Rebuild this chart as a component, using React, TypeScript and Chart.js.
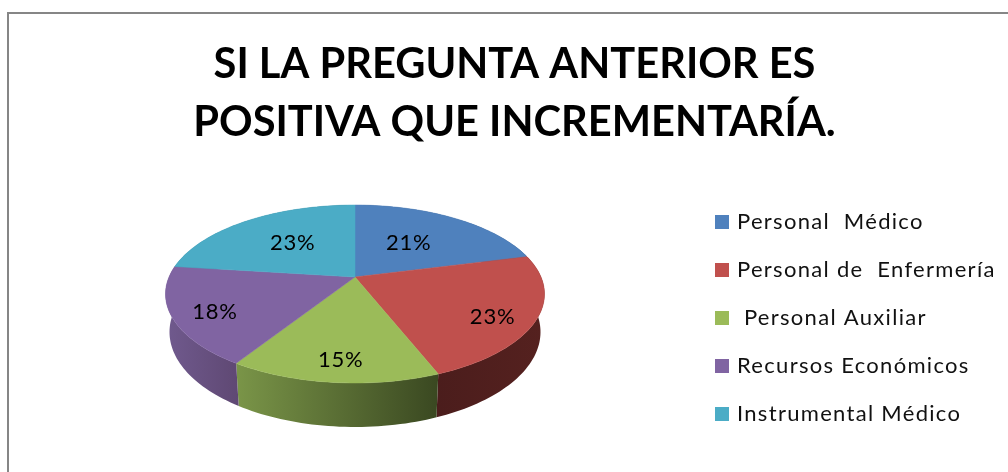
import React, { useEffect, useRef } from "react";
import { Chart, registerables } from "chart.js";

Chart.register(...registerables);

const titleLines = ["SI LA PREGUNTA ANTERIOR ES", "POSITIVA QUE INCREMENTARÍA."];
const categories = ["Personal  Médico", "Personal de  Enfermería", " Personal Auxiliar", "Recursos Económicos", "Instrumental Médico"];
const percentages = [21, 23, 15, 18, 23];
const sliceColors = ["#4f81bd", "#c0504d", "#9bbb59", "#8064a2", "#4bacc6"];
const wallLeftColors = ["#3a5f8c", "#4b1d1c", "#7a9548", "#705a8e", "#37808f"];
const wallRightColors = ["#2f4e73", "#55211f", "#3a4821", "#5f4873", "#2d6a76"];
const labelOffsets = [[0.289, -0.184], [0.74, 0.213], [-0.077, 0.445], [-0.753, 0.188], [-0.335, -0.184]];

// Perspective of the tilted disc, in units of the arc's radius.
const tilt = { k: -0.191, squash: 0.461 };
const topRim = { cy: 17 / 186, rx: 190 / 186, ry: 89 / 186 };
const bottomRim = { cy: 55 / 186, rx: 1, ry: 95 / 186 };

type Pt = [number, number];
const project = (arc: any, angle: number, r = 1): Pt => {
  const u = Math.cos(angle) * r;
  const v = Math.sin(angle) * r;
  const d = 1 + tilt.k * v;
  return [arc.x + (arc.outerRadius * u) / d, arc.y + (arc.outerRadius * tilt.squash * v) / d];
};
const toBottom = (arc: any, p: Pt): Pt => {
  const R = arc.outerRadius;
  const nx = (p[0] - arc.x) / (R * topRim.rx);
  const ny = (p[1] - (arc.y + R * topRim.cy)) / (R * topRim.ry);
  return [arc.x + nx * R * bottomRim.rx, arc.y + R * bottomRim.cy + ny * R * bottomRim.ry];
};
const samples = (arc: any): Pt[] => {
  const n = Math.max(8, Math.ceil((arc.endAngle - arc.startAngle) * 40));
  const pts: Pt[] = [];
  for (let i = 0; i <= n; i++) pts.push(project(arc, arc.startAngle + ((arc.endAngle - arc.startAngle) * i) / n));
  return pts;
};
const swatch = (color: string) => {
  const c = document.createElement("canvas");
  c.width = 14;
  c.height = 14;
  const g = c.getContext("2d") as CanvasRenderingContext2D;
  g.fillStyle = color;
  g.fillRect(0, 0, 14, 14);
  return c;
};

const pie3d = {
  id: "pie3d",
  beforeDraw(chart: any) {
    const { ctx } = chart;
    ctx.save();
    ctx.strokeStyle = "#868686";
    ctx.lineWidth = 2;
    ctx.strokeRect(8, 13, 1200, 700);
    ctx.restore();
  },
  afterLayout(chart: any) {
    const area = chart.chartArea;
    area.left = 21;
    area.right = 689;
    area.top = 160;
    area.bottom = 394;
    area.width = area.right - area.left;
    area.height = area.bottom - area.top;
    const lg = chart.legend;
    lg.left = 692;
    lg.right = 1008;
    lg.top = 185;
    lg.bottom = 472;
    if (!lg.spacedDraw) {
      const draw = lg.draw.bind(lg);
      lg.spacedDraw = true;
      lg.draw = () => {
        chart.ctx.letterSpacing = "1.3px";
        draw();
        chart.ctx.letterSpacing = "0px";
      };
    }
  },
  beforeDatasetDraw(chart: any, args: any) {
    const { ctx } = chart;
    const arcs = args.meta.data;
    ctx.save();
    arcs.forEach((arc: any, i: number) => {
      const top = samples(arc);
      const bot = top.map((p) => toBottom(arc, p));
      const xs = top.concat(bot).map((p) => p[0]);
      const g = ctx.createLinearGradient(Math.min(...xs), 0, Math.max(...xs), 0);
      g.addColorStop(0, wallLeftColors[i]);
      g.addColorStop(1, wallRightColors[i]);
      ctx.fillStyle = g;
      ctx.beginPath();
      top.forEach((p, j) => (j ? ctx.lineTo(p[0], p[1]) : ctx.moveTo(p[0], p[1])));
      bot.reverse().forEach((p) => ctx.lineTo(p[0], p[1]));
      ctx.closePath();
      ctx.fill();
    });
    arcs.forEach((arc: any, i: number) => {
      const color = sliceColors[i];
      ctx.fillStyle = color;
      ctx.strokeStyle = color;
      ctx.lineWidth = 0.5;
      ctx.beginPath();
      ctx.moveTo(arc.x, arc.y);
      samples(arc).forEach((p) => ctx.lineTo(p[0], p[1]));
      ctx.closePath();
      ctx.fill();
      ctx.stroke();
    });
    ctx.fillStyle = "#000";
    ctx.font = "22px Lato";
    ctx.letterSpacing = "0.8px";
    ctx.textAlign = "center";
    ctx.textBaseline = "middle";
    arcs.forEach((arc: any, i: number) => {
      const [dx, dy] = labelOffsets[i];
      ctx.fillText(`${percentages[i]}%`, arc.x + dx * arc.outerRadius, arc.y + dy * arc.outerRadius);
    });
    ctx.letterSpacing = "0px";
    ctx.restore();
    return false;
  },
};

export default function App() {
  const ref = useRef<HTMLCanvasElement>(null);
  useEffect(() => {
    const chart = new Chart(ref.current as HTMLCanvasElement, {
      type: "pie",
      data: {
        labels: categories,
        datasets: [{ data: percentages, backgroundColor: sliceColors, borderWidth: 0 }],
      },
      options: {
        animation: false,
        responsive: false,
        radius: 186,
        layout: { padding: { left: 21, right: 0, top: 0, bottom: 0 } },
        plugins: {
          title: {
            display: true,
            text: titleLines,
            color: "#000",
            font: { family: "Lato", size: 41.6, weight: "bold", lineHeight: 1.4 },
            padding: { top: 35, bottom: 10 },
          },
          legend: {
            position: "right",
            align: "start",
            labels: {
              color: "#111",
              font: { family: "Lato", size: 22 },
              boxWidth: 14,
              boxHeight: 14,
              padding: 26,
              usePointStyle: true,
              pointStyleWidth: 8,
              generateLabels: (chart: any) =>
                (Chart as any).overrides.pie.plugins.legend.labels
                  .generateLabels(chart)
                  .map((item: any, i: number) => ({ ...item, pointStyle: swatch(sliceColors[i]) })),
            },
          },
          tooltip: { enabled: false },
        },
      } as any,
      plugins: [pie3d],
    });
    return () => chart.destroy();
  }, []);
  return (
    <div style={{ position: "fixed", left: 0, top: 0, width: 1008, height: 472, background: "#fff" }}>
      <canvas ref={ref} width={1008} height={472} style={{ display: "block" }} />
    </div>
  );
}
